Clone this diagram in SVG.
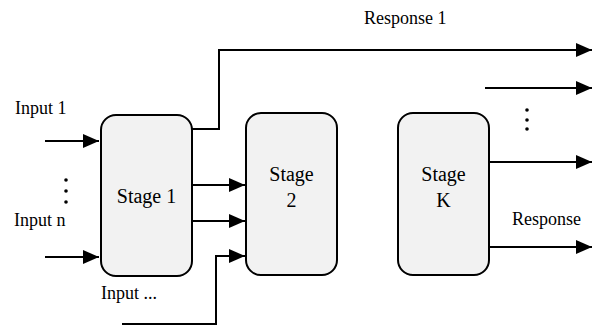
<svg xmlns="http://www.w3.org/2000/svg" width="594" height="325" viewBox="0 0 594 325">
<style>
.box{fill:#f2f2f2;stroke:#000;stroke-width:2}
text{font-family:'Liberation Serif','Times New Roman',Times,serif;fill:#000}
.t{font-size:18px}
.s{font-size:20px;text-anchor:middle}
.dot{fill:#000}
</style>
<defs>
<marker id="a" viewBox="0 0 16 14" refX="16" refY="7" markerWidth="16" markerHeight="14" markerUnits="userSpaceOnUse" orient="auto"><path d="M0,0L16,7L0,14z" fill="#000"/></marker>
</defs>
<g id="connectors" fill="none" stroke="#000" stroke-width="2">
<path d="M192,129H219V50H592" marker-end="url(#a)"/>
<path d="M485,88H592" marker-end="url(#a)"/>
<path d="M489,162H592" marker-end="url(#a)"/>
<path d="M489,247H592" marker-end="url(#a)"/>
<path d="M45,141H99" marker-end="url(#a)"/>
<path d="M45,257H99" marker-end="url(#a)"/>
<path d="M192,185H245" marker-end="url(#a)"/>
<path d="M192,221H245" marker-end="url(#a)"/>
<path d="M122,324H216V256H245" marker-end="url(#a)"/>
</g>
<g id="stage1"><rect class="box" x="101" y="115" width="91" height="161" rx="15"/><text class="s" x="146.5" y="202.5">Stage 1</text></g>
<g id="stage2"><rect class="box" x="246" y="113" width="91" height="162" rx="15"/><text class="s" x="291.5" y="181">Stage</text><text class="s" x="291.5" y="207">2</text></g>
<g id="stageK"><rect class="box" x="398" y="113" width="91" height="162" rx="15"/><text class="s" x="443.5" y="181">Stage</text><text class="s" x="443.5" y="207">K</text></g>
<g id="labels">
<text class="t" x="364" y="24">Response 1</text>
<text class="t" x="512" y="225">Response</text>
<text class="t" x="15" y="114">Input 1</text>
<text class="t" x="14" y="225.5">Input n</text>
<text class="t" x="101" y="299">Input ...</text>
<circle class="dot" cx="66" cy="180" r="1.8"/><circle class="dot" cx="66" cy="191" r="1.8"/><circle class="dot" cx="66" cy="202" r="1.8"/>
<circle class="dot" cx="527" cy="110" r="1.8"/><circle class="dot" cx="527" cy="120" r="1.8"/><circle class="dot" cx="527" cy="129" r="1.8"/>
</g>
</svg>
